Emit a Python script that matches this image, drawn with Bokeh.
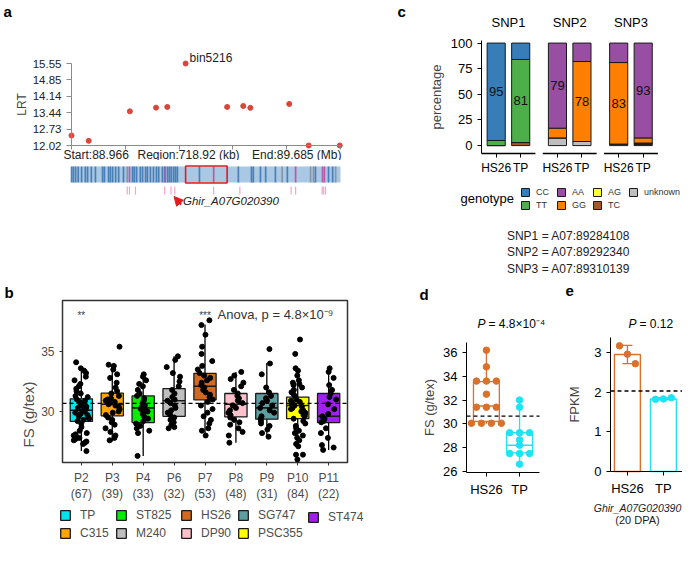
import numpy as np
from bokeh.plotting import figure
from bokeh.layouts import column, row
from bokeh.models import (Range1d, FixedTicker, Label, Legend, LegendItem,
                          ColumnDataSource, Arrow, NormalHead)
from bokeh.transform import jitter
from bokeh.embed import file_html
from bokeh.resources import INLINE
from bokeh.core.properties import value

FONT = "Liberation Sans"
RED = "#e41a1c"

# ---------------- panel a data ----------------
region_start = 88.966
region_end = 89.685
region_kb = 718.92
bin_pos = [88.966, 89.012, 89.122, 89.192, 89.222, 89.271, 89.382, 89.425, 89.444, 89.548, 89.600, 89.683]
bin_lrt = [12.45, 12.22, 13.49, 13.65, 13.68, 15.55, 13.68, 13.72, 13.64, 13.81, 12.02, 12.02]
lrt_ticks = [12.02, 12.73, 13.44, 14.14, 14.85, 15.55]
peak_bin = "bin5216"
peak_pos = 89.271
next_bin_pos = 89.382
gene_blue = [88.966, 88.971, 88.977, 88.984, 88.993, 89.003, 89.009, 89.019, 89.030, 89.049,
             89.054, 89.065, 89.070, 89.076, 89.084, 89.092, 89.105, 89.129, 89.134, 89.140,
             89.150, 89.156, 89.164, 89.169, 89.177, 89.185, 89.193, 89.199, 89.209, 89.215,
             89.223, 89.228, 89.233, 89.239, 89.244, 89.249, 89.308, 89.412, 89.447, 89.452,
             89.471, 89.485, 89.511, 89.543, 89.618, 89.653, 89.664]
gene_grey = [89.115, 89.529, 89.605, 89.613, 89.672]
gene_magenta = [89.121, 89.217, 89.346, 89.565, 89.637, 89.642]
pink_ticks = [89.115, 89.121, 89.137, 89.215, 89.232, 89.242, 89.346, 89.416, 89.553, 89.565,
              89.636, 89.640, 89.645]
candidate_gene = "Ghir_A07G020390"
candidate_pos = 89.240

# ---------------- panel b data ----------------
pops = ["P2", "P3", "P4", "P6", "P7", "P8", "P9", "P10", "P11"]
pop_n = [67, 39, 33, 32, 53, 48, 31, 84, 22]
varieties = ["TP", "C315", "ST825", "M240", "HS26", "DP90", "SG747", "PSC355", "ST474"]
var_colors = ["#00E5EE", "#FFA500", "#00EE00", "#BEBEBE", "#D2691E", "#FFC0CB", "#5F9EA0", "#FFFF00", "#A020F0"]
b_q1 = [29.17, 29.64, 29.08, 29.6, 30.97, 29.55, 29.36, 29.4, 29.08]
b_med = [30.1, 30.6, 30.3, 30.9, 32.1, 30.6, 30.3, 30.5, 29.6]
b_q3 = [31.06, 31.53, 31.3, 31.9, 33.17, 31.5, 31.5, 31.2, 31.5]
b_lo = [26.7, 27.5, 26.3, 28.6, 28.0, 27.4, 27.9, 27.1, 26.8]
b_hi = [33.6, 33.9, 33.1, 34.6, 37.25, 33.3, 34.05, 33.4, 33.6]
fs_P2 = [34.1, 33.6, 33.4, 33.2, 32.9, 32.6, 32.3, 32.1, 31.9, 31.7, 31.5, 31.3, 31.2, 31.0, 30.9, 30.8,
         30.7, 30.6, 30.5, 30.4, 30.3, 30.2, 30.1, 30.0, 30.0, 29.9, 29.8, 29.7, 29.6, 29.5, 29.4, 29.3,
         29.2, 29.0, 28.7, 28.4, 28.1, 28.0, 27.9, 27.8, 27.7, 27.6, 27.5, 27.4, 27.3, 27.8, 28.2, 26.7]
fs_P3 = [35.4, 33.9, 33.8, 33.5, 33.1, 32.8, 32.4, 32.0, 31.7, 31.5, 31.3, 31.1, 31.0, 30.9, 30.8, 30.7,
         30.6, 30.5, 30.4, 30.2, 30.0, 29.9, 29.7, 29.5, 29.3, 29.1, 28.9, 28.6, 28.3, 28.0, 27.8, 27.6]
fs_P4 = [33.1, 32.9, 32.6, 32.3, 32.1, 31.8, 31.5, 31.3, 31.1, 30.9, 30.7, 30.5, 30.4, 30.2, 30.1, 30.0,
         29.8, 29.6, 29.4, 29.2, 29.0, 28.8, 28.6, 28.4, 28.2, 26.3]
fs_P6 = [34.6, 34.3, 33.7, 33.2, 32.9, 32.5, 32.1, 31.8, 31.5, 31.2, 31.0, 30.9, 30.7, 30.5, 30.3, 30.1,
         29.9, 29.7, 29.5, 29.3, 29.1, 28.9, 28.7, 28.6]
fs_P7 = [37.6, 37.2, 36.4, 35.4, 34.8, 34.2, 33.8, 33.5, 33.2, 33.0, 32.8, 32.6, 32.4, 32.2, 32.0, 31.8,
         31.6, 31.4, 31.2, 31.0, 30.8, 30.5, 30.2, 29.9, 29.6, 29.3, 29.0, 28.6, 28.4, 28.0]
fs_P8 = [33.3, 33.0, 32.7, 32.4, 32.1, 31.8, 31.5, 31.3, 31.1, 30.9, 30.7, 30.5, 30.3, 30.1, 29.9, 29.7,
         29.5, 29.3, 29.1, 28.9, 28.6, 28.3, 28.0, 27.4]
fs_P9 = [35.2, 34.0, 33.1, 32.0, 31.6, 31.3, 31.1, 30.9, 30.7, 30.5, 30.3, 30.1, 29.9, 29.6, 29.4, 29.2,
         29.0, 28.8, 28.5, 28.2, 27.9]
fs_P10 = [36.0, 34.8, 33.6, 33.4, 33.0, 32.6, 32.4, 32.3, 32.2, 32.0, 31.8, 31.6, 31.4, 31.2, 31.0, 30.9,
          30.8, 30.7, 30.6, 30.5, 30.4, 30.3, 30.2, 30.1, 30.0, 29.9, 29.8, 29.7, 29.6, 29.4, 29.2, 29.0,
          28.8, 28.6, 28.4, 28.2, 28.0, 27.8, 27.6, 27.3, 27.1, 26.4, 26.4, 26.0]
fs_P11 = [33.6, 33.3, 32.8, 32.2, 31.8, 31.5, 31.2, 31.0, 30.6, 30.2, 29.8, 29.6, 29.4, 29.2, 29.1, 28.6,
          28.2, 27.8, 27.2, 27.0, 26.8]
fs_by_pop = [fs_P2, fs_P3, fs_P4, fs_P6, fs_P7, fs_P8, fs_P9, fs_P10, fs_P11]
sig_marks = ["**", "", "", "", "***", "", "", "", ""]
fs_mean = 30.67
anova_text = "Anova, p = 4.8×10⁻⁹"

# ---------------- panel c data ----------------
snps = ["SNP1", "SNP2", "SNP3"]
snp_loci = ["A07:89284108", "A07:89292340", "A07:89310139"]
geno_groups = ["HS26", "TP"]
genotypes = ["CC", "TT", "AA", "GG", "AG", "TC", "unknown"]
geno_colors = ["#377EB8", "#4DAF4A", "#984EA3", "#FF7F00", "#FFFF33", "#A65628", "#BEBEBE"]
# bars: SNP1-HS26, SNP1-TP, SNP2-HS26, SNP2-TP, SNP3-HS26, SNP3-TP
pct_CC = [95, 16, 0, 0, 0, 0]
pct_TT = [5, 81, 0, 0, 0, 0]
pct_AA = [0, 0, 83, 18, 19, 92.5]
pct_GG = [0, 0, 9.5, 78, 79.5, 5]
pct_AG = [0, 0, 0, 0, 0, 0]
pct_TC = [0, 3, 0, 0, 0, 1.5]
pct_unknown = [0, 0, 7.5, 4, 1.5, 1]
bar_labels = [95, 81, 79, 78, 83, 93]
bar_label_geno = ["CC", "TT", "AA", "GG", "GG", "AA"]

# ---------------- panel d data ----------------
d_groups = ["HS26", "TP"]
d_colors = ["#D9712B", "#1EE3F5"]
d_q1 = [30.2, 27.55]
d_med = [31.5, 28.2]
d_q3 = [33.55, 29.25]
d_lo = [30.0, 26.6]
d_hi = [36.2, 32.0]
d_HS26 = [36.2, 34.8, 33.6, 33.6, 33.6, 32.5, 31.4, 31.4, 31.4, 30.05, 30.05, 30.05, 30.05]
d_TP = [32.0, 31.4, 29.25, 29.25, 29.25, 28.65, 28.2, 27.5, 27.5, 27.5, 26.6]
d_mean = 30.65
d_p = "= 4.8×10⁻⁴"

# ---------------- panel e data ----------------
e_mean = [2.95, 1.83]
e_lo = [2.72, 1.81]
e_hi = [3.18, 1.86]
e_HS26 = [3.17, 2.96, 2.72]
e_TP = [1.82, 1.83, 1.86]
e_ref = 2.03
e_p = "= 0.12"
e_stage = "(20 DPA)"


class Canvas:
    """A figure whose frame is the whole canvas; `box` is the plot area in pixels."""
    def __init__(self, w, h, box, data, x_range=None, **kw):
        left, right, top, bottom = box
        x0, x1, y0, y1 = data
        self.w, self.h = w, h
        self.dx = (x1 - x0) / (right - left)
        self.dy = (y1 - y0) / (bottom - top)
        self.xs = x0 - left * self.dx
        self.xe = x1 + (w - right) * self.dx
        self.ys = y0 - (h - bottom) * self.dy
        self.ye = y1 + top * self.dy
        xr = x_range if x_range is not None else Range1d(self.xs, self.xe)
        p = figure(output_backend="svg", toolbar_location=None, width=w, height=h,
                   x_range=xr, y_range=Range1d(self.ys, self.ye), min_border=0, **kw)
        p.grid.visible = False
        p.outline_line_color = None
        p.background_fill_color = "white"
        p.border_fill_color = "white"
        self.fig = p

    def X(self, px):
        return self.xs + px * self.dx

    def Y(self, py):
        return self.ye - py * self.dy

    def txt(self, text, px, py, size="12px", align="left", style="normal", color="black",
            baseline="middle", x=None, y=None, **kw):
        self.fig.add_layout(Label(x=self.X(px) if x is None else x, y=self.Y(py) if y is None else y,
                                  text=text, text_font=FONT, text_font_size=size,
                                  text_align=align, text_font_style=style, text_color=color,
                                  text_baseline=baseline, **kw))

    def panel_label(self, text, px, py):
        self.txt(text, px, py, size="15px", style="bold", baseline="top")


def style_axis(ax, size="13px", color="black", line="black", fixed=None, bounds=None):
    ax.major_label_text_font = FONT
    ax.major_label_text_font_size = size
    ax.major_label_text_color = color
    ax.axis_label_text_font = FONT
    ax.axis_label_text_font_style = "normal"
    ax.minor_tick_line_color = None
    ax.major_tick_in = 0
    ax.major_tick_out = 4
    ax.axis_line_color = line
    ax.major_tick_line_color = line
    if fixed is not None:
        ax.fixed_location = fixed
    if bounds is not None:
        ax.bounds = bounds


def dot_offsets(vals, step):
    counts = {}
    for v in vals:
        counts[v] = counts.get(v, 0) + 1
    seen, offs = {}, []
    for v in vals:
        n = counts[v]
        k = seen.get(v, 0)
        seen[v] = k + 1
        offs.append((k - (n - 1) / 2) * step)
    return offs

# ======================= panel a =======================
A = Canvas(392, 160, (71, 340, 63, 145), (region_start, region_end, 12.02, 15.55))
pa = A.fig
pa.scatter(bin_pos, bin_lrt, size=5, color="#d8453b")
style_axis(pa.yaxis[0], size="11.5px", color="#222222", line="#8a8a8a",
           fixed=region_start, bounds=(12.02, 15.55))
style_axis(pa.xaxis[0], size="11.5px", color="#222222", line="#8a8a8a",
           fixed=12.02, bounds=(region_start, region_end))
pa.yaxis.ticker = FixedTicker(ticks=lrt_ticks)
pa.yaxis.major_label_overrides = {t: f"{t:.2f}" for t in lrt_ticks}
pa.yaxis.axis_label = "LRT"
pa.yaxis.axis_label_text_font_size = "12px"
pa.yaxis.axis_label_standoff = 1
pa.yaxis.major_tick_out = 5
pa.xaxis.ticker = FixedTicker(ticks=[], minor_ticks=[float(t) for t in np.linspace(region_start, region_end, 6)])
pa.xaxis.minor_tick_line_color = "#8a8a8a"
pa.xaxis.minor_tick_out = 4
pa.xaxis.minor_tick_in = 0
A.txt(peak_bin, 0, 57, size="12px", x=peak_pos, x_offset=4, color="#222222")
A.txt(f"Start:{region_start}", 0, 154, size="12px", x=region_start, x_offset=-8, color="#222222")
A.txt(f"Region:{region_kb} (kb)", 137, 154, size="12px", color="#222222")
A.txt(f"End:{region_end} (Mb)", 0, 154, size="12px", x=region_end, align="right",
      x_offset=1, color="#222222")
A.panel_label("a", 3, 2)

A2 = Canvas(392, 122, (71, 340, 0, 122), (region_start, region_end, 0, 122), x_range=pa.x_range,
            x_axis_type=None, y_axis_type=None)
pa2 = A2.fig
STRIPE = 0.0045
s_top, s_bot = A2.Y(6), A2.Y(22)
pa2.quad(left=[region_start], right=[region_end], top=[s_top], bottom=[s_bot],
         fill_color="#a9c8e3", line_color=None)
pa2.quad(left=[g - STRIPE / 2 for g in gene_blue], right=[g + STRIPE / 2 for g in gene_blue],
         top=s_top, bottom=s_bot, fill_color="#3a72b0", fill_alpha=0.85, line_color=None)
pa2.quad(left=[g - STRIPE / 2 for g in gene_grey], right=[g + STRIPE / 2 for g in gene_grey],
         top=s_top, bottom=s_bot, fill_color="#8796a6", line_color=None)
pa2.quad(left=[g - STRIPE / 2 for g in gene_magenta], right=[g + STRIPE / 2 for g in gene_magenta],
         top=s_top, bottom=s_bot, fill_color="#b85aa8", line_color=None)
pa2.segment(x0=pink_ticks, x1=pink_ticks, y0=A2.Y(26), y1=A2.Y(34), line_color="#f0a6cc", line_width=1.2)
pa2.quad(left=[peak_pos], right=[next_bin_pos], top=[A2.Y(5.5)], bottom=[A2.Y(22.5)], fill_color=None,
         line_color=RED, line_width=1.6)
pa2.add_layout(Arrow(end=NormalHead(size=9, fill_color=RED, line_color=RED),
                     x_start=candidate_pos + 0.019, y_start=A2.Y(44), x_end=candidate_pos,
                     y_end=A2.Y(36), line_color=RED, line_width=2))
A2.txt(candidate_gene, 0, 40, size="11.5px", style="italic", x=candidate_pos + 0.024, color="#222222")

# ======================= panel c =======================
C = Canvas(290, 282, (89, 265.4, 40, 153), (0, 7.2, -7.7, 102.5))
pc = C.fig
xpos = [round(i * 2.5 + 0.6 + j, 2) for i in range(len(snps)) for j in range(len(geno_groups))]
pct = dict(zip(genotypes, [pct_CC, pct_TT, pct_AA, pct_GG, pct_AG, pct_TC, pct_unknown]))
gcol = dict(zip(genotypes, geno_colors))
bottoms = np.zeros(len(xpos))
rends, seg = {}, {}
for g in genotypes[::-1]:
    vals = np.array(pct[g], dtype=float)
    m = vals > 0
    if not m.any():
        m = np.ones(len(vals), dtype=bool)   # keep zero-height entries so the legend swatch is drawn
    src = ColumnDataSource(dict(x=list(np.array(xpos)[m]), bottom=list(bottoms[m]),
                                top=list((bottoms + vals)[m])))
    rends[g] = pc.vbar(x="x", bottom="bottom", top="top", width=0.74, source=src,
                       fill_color=gcol[g], line_color="#1a1a1a", line_width=1)
    seg[g] = (bottoms.copy(), bottoms + vals)
    bottoms = bottoms + vals
lab_y = [(seg[g][0][k] + seg[g][1][k]) / 2 for k, g in enumerate(bar_label_geno)]
pc.text(x=xpos, y=lab_y, text=[str(v) for v in bar_labels], text_font=value(FONT),
        text_font_size="13px", text_align="center", text_baseline="middle", text_color="#111111")
pc.segment(x0=[i * 2.5 for i in range(3)], x1=[i * 2.5 + 2.2 for i in range(3)],
           y0=-7.7, y1=-7.7, line_color="black", line_width=1.3)
style_axis(pc.yaxis[0], fixed=0, bounds=(-7.7, 102.5))
style_axis(pc.xaxis[0], size="12px", fixed=-7.7)
pc.xaxis.axis_line_color = None
pc.yaxis.ticker = FixedTicker(ticks=[0, 25, 50, 75, 100])
pc.yaxis.axis_label = "percentage"
pc.yaxis.axis_label_text_font_size = "13px"
pc.yaxis.axis_label_standoff = 4
pc.xaxis.ticker = FixedTicker(ticks=xpos)
pc.xaxis.major_label_overrides = {x: geno_groups[k % 2] for k, x in enumerate(xpos)}
pc.xaxis.major_label_standoff = 3
for i, s in enumerate(snps):
    C.txt(s, 0, 22, size="13px", align="center", x=i * 2.5 + 1.1)
leg_c = Legend(items=[LegendItem(label=g, renderers=[rends[g]]) for g in genotypes],
               orientation="vertical", nrows=2, location=(128, 282 - 210), glyph_width=10,
               glyph_height=10, label_text_font_size="9px", label_text_font=FONT,
               label_text_color="#333333", spacing=3, padding=0, margin=0,
               border_line_color=None, background_fill_alpha=0, label_standoff=6,
               label_width=17, label_height=10)
pc.add_layout(leg_c)
C.txt("genotype", 68, 198, size="13px")
for i, (s, loc) in enumerate(zip(snps, snp_loci)):
    C.txt(f"{s} = {loc}", 176, 235 + i * 16.5, size="12px", align="center", color="#222222")
C.panel_label("c", 5, 2)

# ======================= panel b =======================
B = Canvas(392, 264, (62, 347, 18, 180), (0.39, 9.61, 25.75, 39.25))
pb = B.fig
pb.quad(left=[0.39], right=[9.61], bottom=[25.75], top=[39.25], fill_color=None,
        line_color="#333333", line_width=1.5)
bx = list(range(1, len(pops) + 1))
BW = 0.72
bsrc = ColumnDataSource(dict(x=bx, q1=b_q1, q3=b_q3, med=b_med, lo=b_lo, hi=b_hi, color=var_colors,
                             x0=[x - BW / 2 for x in bx], x1=[x + BW / 2 for x in bx]))
pb.segment(x0="x", x1="x", y0="q3", y1="hi", source=bsrc, line_color="black", line_width=1.3)
pb.segment(x0="x", x1="x", y0="lo", y1="q1", source=bsrc, line_color="black", line_width=1.3)
box_r = pb.vbar(x="x", bottom="q1", top="q3", width=BW, source=bsrc, fill_color="color",
                line_color="#1a1a1a", line_width=1.3)
pb.segment(x0="x0", x1="x1", y0="med", y1="med", source=bsrc, line_color="#1a1a1a", line_width=1.6)
pts_x = [bx[i] for i, vals in enumerate(fs_by_pop) for _ in vals]
pts_y = [v for vals in fs_by_pop for v in vals]
psrc = ColumnDataSource(dict(x=pts_x, y=pts_y))
pb.scatter(x=jitter("x", width=0.5, distribution="uniform"), y="y", source=psrc, size=5,
           color="black")
pb.segment(x0=[0.39], x1=[9.61], y0=[fs_mean], y1=[fs_mean], line_color="black", line_width=1.2,
           line_dash="4 3")
sig_x = [x for x, s in zip(bx, sig_marks) if s]
sig_t = [s for s in sig_marks if s]
pb.text(x=sig_x, y=[B.Y(33)] * len(sig_x), text=sig_t, text_font=value(FONT), text_font_size="10px",
        text_align="center", text_baseline="middle", text_color="#444444")
B.txt(anova_text, 217, 32, size="13px", color="#333333")
style_axis(pb.yaxis[0], size="12px", color="#4d4d4d", line="#333333", fixed=0.39)
style_axis(pb.xaxis[0], size="12px", color="#4d4d4d", line="#333333", fixed=25.75)
pb.axis.axis_line_color = None
pb.axis.major_tick_out = 3
pb.yaxis.ticker = FixedTicker(ticks=[30, 35])
pb.yaxis.axis_label = "FS (g/tex)"
pb.yaxis.axis_label_text_font_size = "15px"
pb.yaxis.axis_label_text_color = "#4d4d4d"
pb.yaxis.axis_label_standoff = 1
pb.xaxis.ticker = FixedTicker(ticks=bx)
pb.xaxis.major_label_overrides = {x: f"{p}\n({n})" for x, p, n in zip(bx, pops, pop_n)}
leg_cols_x = [59, 115, 180, 237, 307]
for c, lx in enumerate(leg_cols_x):
    idx = [k for k in (2 * c, 2 * c + 1) if k < len(varieties)]
    items = [LegendItem(label=varieties[k], renderers=[box_r], index=k) for k in idx]
    ly = 264 - (258 if len(idx) == 2 else 242)
    pb.add_layout(Legend(items=items, orientation="vertical", location=(lx, ly), glyph_width=12,
                         glyph_height=12, label_text_font_size="12px", label_text_font=FONT,
                         label_text_color="#4d4d4d", spacing=4, padding=0, margin=0,
                         border_line_color=None, background_fill_alpha=0, label_standoff=9,
                         label_height=12))
B.panel_label("b", 4, 1)

# ======================= panel d =======================
D = Canvas(165, 264, (74, 147, 60, 190), (-0.6, 1.6, 25.9, 36.85))
pdd = D.fig
DW = 0.78
dx = [0, 1]
dsrc = ColumnDataSource(dict(x=dx, q1=d_q1, q3=d_q3, med=d_med, lo=d_lo, hi=d_hi, color=d_colors,
                             x0=[x - DW / 2 for x in dx], x1=[x + DW / 2 for x in dx]))
pdd.segment(x0="x", x1="x", y0="q3", y1="hi", source=dsrc, line_color="color", line_width=1.3)
pdd.segment(x0="x", x1="x", y0="lo", y1="q1", source=dsrc, line_color="color", line_width=1.3)
pdd.vbar(x="x", bottom="q1", top="q3", width=DW, source=dsrc, fill_color="white",
         line_color="color", line_width=1.3)
pdd.segment(x0="x0", x1="x1", y0="med", y1="med", source=dsrc, line_color="color", line_width=1.6)
for k, vals in enumerate([d_HS26, d_TP]):
    offs = dot_offsets(vals, 0.3)
    pdd.scatter([dx[k] + o for o in offs], vals, size=6.5, color=d_colors[k])
pdd.segment(x0=[-0.6], x1=[1.6], y0=[d_mean], y1=[d_mean], line_color="black", line_width=1.3,
            line_dash="4 3")
style_axis(pdd.yaxis[0], fixed=-0.6, bounds=(25.9, 36.85))
style_axis(pdd.xaxis[0], fixed=25.9, bounds=(-0.6, 1.6))
pdd.yaxis.ticker = FixedTicker(ticks=[26, 28, 30, 32, 34, 36])
pdd.yaxis.axis_label = "FS (g/tex)"
pdd.yaxis.axis_label_text_font_size = "13px"
pdd.yaxis.axis_label_standoff = 3
pdd.xaxis.ticker = FixedTicker(ticks=dx)
pdd.xaxis.major_label_overrides = {x: g for x, g in zip(dx, d_groups)}
D.txt("P", 85, 41, size="12px", style="italic")
D.txt(d_p, 96, 41, size="12px")
D.panel_label("d", 27, 3)

# ======================= panel e =======================
E = Canvas(125, 264, (53, 125, 55, 189), (-0.47, 1.53, 0, 3.38))
pe = E.fig
ex = [0, 1]
pe.vbar(x=ex, top=e_mean, bottom=0, width=0.72, fill_color="white", line_color=d_colors,
        line_width=1.4)
pe.segment(x0=[-0.47], x1=[1.53], y0=[e_ref], y1=[e_ref], line_color="black", line_width=1.3,
           line_dash="4 3")
CAP = 0.14
pe.segment(x0=ex, x1=ex, y0=e_lo, y1=e_hi, line_color=d_colors, line_width=1.3)
pe.segment(x0=[x - CAP for x in ex], x1=[x + CAP for x in ex], y0=e_hi, y1=e_hi,
           line_color=d_colors, line_width=1.3)
pe.segment(x0=[x - CAP for x in ex], x1=[x + CAP for x in ex], y0=e_lo, y1=e_lo,
           line_color=d_colors, line_width=1.3)
for k, vals in enumerate([e_HS26, e_TP]):
    offs = [(i - (len(vals) - 1) / 2) * 0.22 for i in range(len(vals))]
    pe.scatter([ex[k] + o for o in offs], vals, size=6.5, color=d_colors[k])
style_axis(pe.yaxis[0], fixed=-0.47, bounds=(0, 3.38))
style_axis(pe.xaxis[0], fixed=0, bounds=(-0.47, 1.53))
pe.yaxis.ticker = FixedTicker(ticks=[0, 1, 2, 3])
pe.yaxis.axis_label = "FPKM"
pe.yaxis.axis_label_text_font_size = "13px"
pe.yaxis.axis_label_standoff = 9
pe.xaxis.ticker = FixedTicker(ticks=ex)
pe.xaxis.major_label_overrides = {x: g for x, g in zip(ex, d_groups)}
E.txt("P", 71, 41, size="12px", style="italic")
E.txt(e_p, 82, 41, size="12px")
E.txt(candidate_gene, 80, 225, size="10.5px", style="italic", align="center", color="#222222")
E.txt(e_stage, 80, 237, size="11px", align="center", color="#222222")
E.panel_label("e", 8, 3)

layout = column(row(column(pa, pa2), pc), row(pb, pdd, pe))
open("out.html", "w").write(file_html(layout, INLINE))
